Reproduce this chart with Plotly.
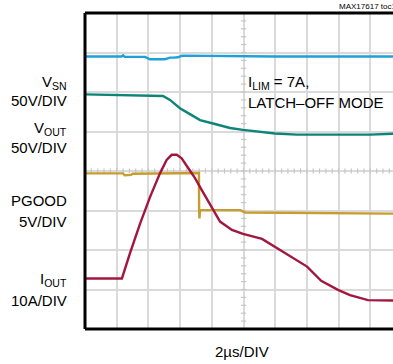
import plotly.graph_objects as go

# ---------------- data (time in µs, trace level in screen divisions) ----------------
vsn_t = [0.0, 2.3, 2.4, 2.5, 3.79, 4.1, 5.05, 5.36, 5.6, 5.87, 6.12, 8.0, 12.0, 16.0, 20.0]
vsn_div = [6.90, 6.90, 6.93, 6.89, 6.89, 6.83, 6.83, 6.87, 6.87, 6.88, 6.92, 6.91, 6.90, 6.90, 6.90]

vout_t = [0.0, 3.47, 4.92, 5.36, 5.99, 6.62, 7.26, 8.20, 9.15, 9.97, 11.04, 11.99, 13.38, 17.98, 20.0]
vout_div = [5.94, 5.92, 5.90, 5.80, 5.59, 5.44, 5.29, 5.19, 5.09, 5.04, 4.99, 4.95, 4.92, 4.92, 4.95]

pgood_t = [0.0, 2.4, 2.5, 2.9, 3.0, 7.19, 7.20, 7.22, 7.26, 9.8, 10.1, 16.0, 20.0]
pgood_div = [3.94, 3.94, 3.89, 3.90, 3.93, 3.95, 3.01, 2.80, 3.01, 3.01, 2.95, 2.92, 2.92]

iout_t = [0.0, 2.33, 2.84, 3.47, 4.10, 4.73, 5.15, 5.47, 5.79, 6.10, 6.52, 6.94, 7.36,
          7.89, 8.52, 9.27, 9.97, 11.17, 11.99, 12.93, 14.01, 14.90, 15.96, 16.72,
          17.85, 19.43, 20.0]
iout_div = [1.28, 1.28, 1.92, 2.66, 3.34, 3.94, 4.28, 4.41, 4.41, 4.32, 4.07, 3.82, 3.52,
            3.14, 2.72, 2.51, 2.41, 2.28, 2.08, 1.83, 1.58, 1.22, 0.99, 0.86,
            0.73, 0.72, 0.72]

channel_names = ["V<sub>SN</sub>", "V<sub>OUT</sub>", "PGOOD", "I<sub>OUT</sub>"]
channel_scales = ["50V/DIV", "50V/DIV", "5V/DIV", "10A/DIV"]
channel_colors = ["#1fa0d6", "#0c8478", "#c89d30", "#a1173f"]

time_label = "2µs/DIV"
note_lines = ["I<sub>LIM</sub> = 7A,", "LATCH–OFF MODE"]
doc_tag = "MAX17617 toc13"

# ---------------- geometry ----------------
W, H = 393, 364
ML, MT, MB, MR = 85, 13, 35, 0
PW = W - ML - MR
PH = H - MT - MB
US_PER_DIV = 2.0
DIV_PX = 31.7
X_MAX = PW / DIV_PX * US_PER_DIV
N_YDIV = 8

FONT = "Liberation Sans, Arial, sans-serif"
FS = 15
GRID = "#dadada"
TICK = "#c6c6c6"


def px_x(x):
    return (x - ML) / PW


def px_y(y):
    return (H - MB - y) / PH


fig = go.Figure()

series = [(vsn_t, vsn_div), (vout_t, vout_div), (pgood_t, pgood_div), (iout_t, iout_div)]
for (t, v), col in zip(series, channel_colors):
    fig.add_trace(go.Scatter(x=t, y=v, mode="lines",
                             line=dict(color=col, width=2.4),
                             hoverinfo="skip", showlegend=False))

shapes = []
# minor ticks on the centre cross
cx = 5 * US_PER_DIV
cy = N_YDIV / 2
half_y = 2.6 / (PH / N_YDIV)
half_x = 2.6 / DIV_PX * US_PER_DIV
k = 0
while k * 0.4 <= X_MAX:
    xv = k * 0.4
    shapes.append(dict(type="line", xref="x", yref="y", x0=xv, x1=xv,
                       y0=cy - half_y, y1=cy + half_y, layer="between",
                       line=dict(color=TICK, width=1.2)))
    k += 1
for k in range(0, N_YDIV * 5 + 1):
    yv = k * 0.2
    shapes.append(dict(type="line", xref="x", yref="y", x0=cx - half_x, x1=cx + half_x,
                       y0=yv, y1=yv, layer="between",
                       line=dict(color=TICK, width=1.2)))

# white panel behind the mode note
shapes.append(dict(type="rect", xref="paper", yref="paper",
                   x0=px_x(236), x1=1.02, y0=px_y(125), y1=px_y(65),
                   fillcolor="white", line=dict(width=0), layer="between"))

# frame: left, bottom, top
for x0, y0, x1, y1 in [(0, 0, 0, 1), (0, 0, 1, 0), (0, 1, 1, 1)]:
    shapes.append(dict(type="line", xref="paper", yref="paper",
                       x0=x0, y0=y0, x1=x1, y1=y1,
                       line=dict(color="black", width=3), layer="above"))


def label(text, x, y, anchor, size=FS):
    return dict(text=text, x=px_x(x), y=px_y(y), xref="paper", yref="paper",
                xanchor=anchor, yanchor="middle", showarrow=False,
                font=dict(family=FONT, size=size, color="black"))


annotations = []
label_rows = [(82.5, 100.5), (128.5, 147.0), (200.5, 221.0), (279.5, 300.5)]
for name, scale, (y1, y2) in zip(channel_names, channel_scales, label_rows):
    annotations.append(label(name, 69, y1, "right"))
    annotations.append(label(scale, 69, y2, "right"))

annotations.append(label(note_lines[0], 246, 82, "left"))
annotations.append(label(note_lines[1], 246, 102.5, "left"))
annotations.append(label(time_label, 242, 351, "center"))
annotations.append(label(doc_tag, 337, 7, "left", size=8))

fig.update_layout(
    width=W, height=H,
    margin=dict(l=ML, r=MR, t=MT, b=MB, pad=0),
    paper_bgcolor="white", plot_bgcolor="white",
    xaxis=dict(range=[0, X_MAX], dtick=US_PER_DIV, tick0=0, showgrid=True,
               gridcolor=GRID, gridwidth=1.5, zeroline=False, showticklabels=False,
               ticks="", showline=False, fixedrange=True),
    yaxis=dict(range=[0, N_YDIV], dtick=1, tick0=0, showgrid=True,
               gridcolor=GRID, gridwidth=1.5, zeroline=False, showticklabels=False,
               ticks="", showline=False, fixedrange=True),
    shapes=shapes,
    annotations=annotations,
)

fig.write_html("out.html", config=dict(displayModeBar=False))
